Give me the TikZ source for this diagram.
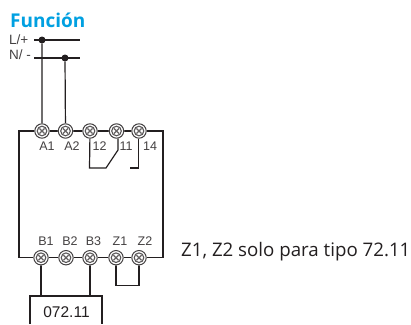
\documentclass[tikz,border=0pt]{standalone}
\usepackage{fontspec}
\setmainfont{Liberation Sans}
\newfontfamily\myr{Open Sans}
\definecolor{fblue}{RGB}{0,160,225}
\definecolor{wire}{RGB}{35,31,32}
\tikzset{
 x=1pt,y=-1pt,
 wireline/.style={draw=wire,line width=1.2pt},
 term/.pic={
  \fill[white] (0,0) circle (7.8);
  \draw[wire!85,line width=1pt] (0,0) circle (7.2);
  \draw[wire!75,line width=1.1pt] (0,0) circle (4.8);
  \draw[wire!70,line width=1.2pt] (-2.6,-2.6)--(2.6,2.6) (-2.6,2.6)--(2.6,-2.6);
 },
 lab/.style={font=\fontsize{12.5}{12.5}\selectfont,text=wire!85,inner sep=0pt,anchor=center},
 rail/.style={font=\fontsize{13.5}{13.5}\selectfont,text=wire!85,inner sep=0pt,anchor=west},
 dot/.style={circle,fill=wire,inner sep=0pt,minimum size=7pt}
}
\begin{document}
\begin{tikzpicture}
\useasboundingbox[fill=white] (0,0) rectangle (411,324);
\node[font=\myr\bfseries\fontsize{19}{19}\selectfont,text=fblue,anchor=west,inner sep=0pt] (fn) at (10,20) {Función};
\node[rail] (lp) at (9,39.5) {L/+};
\node[rail] (nm) at (9,55) {N/ -};
\coordinate (ll) at (34,40); \coordinate (lr) at (80,40);
\coordinate (nl) at (34,58); \coordinate (nr) at (80,58);
\draw[wireline] (ll)--(lr) (nl)--(nr);
\node[dot] (d1) at (42,40) {};
\node[dot] (d2) at (65,58) {};
% terminals
\foreach \n/\x in {a1/42,a2/65.5,t12/90,t11/116.5,t14/139}{\coordinate (\n) at (\x,131);}
\foreach \n/\x in {b1/41,b2/66,b3/90,z1/116,z2/139}{\coordinate (\n) at (\x,257.7);}
% housing
\draw[wireline] (a1) -| (19,257.7) -- (b1);
\draw[wireline] (t14) -| (163,257.7) -- (z2);
\draw[wireline] (a1)--(t14) (b1)--(z2);
\draw[wireline] (d1)--(a1) (d2)--(a2);
% contact
\draw[wireline] (t12)--(89.5,168)--(106,168)--(118,150)--(118,131);
\draw[wireline] (138.3,131)--(138.3,168)--(130,168);
% bottom
\coordinate (k1) at (41,296); \coordinate (k3) at (90,296);
\draw[wireline] (b1)--(k1) (b3)--(k3);
\draw[wireline] (z1)--(116,285.7)--(139,285.7)--(z2);
\draw[wireline] (30,324)--(30,296)--(102,296)--(102,324);
\foreach \n in {a1,a2,t12,t11,t14,b1,b2,b3,z1,z2}{\path (\n) pic {term};}
\node[lab] (la1) at (47,146.5) {A1};
\node[lab] (la2) at (72,146.5) {A2};
\node[lab] (l12) at (99.5,146.5) {12};
\node[lab] (l11) at (126,146.5) {11};
\node[lab] (l14) at (150,146.5) {14};
\node[lab] (lb1) at (46,241.5) {B1};
\node[lab] (lb2) at (70,241.5) {B2};
\node[lab] (lb3) at (93.5,241.5) {B3};
\node[lab] (lz1) at (120,241.5) {Z1};
\node[lab] (lz2) at (145,241.5) {Z2};
\node[font=\fontsize{15.5}{15.5}\selectfont,text=wire,inner sep=0pt] (code) at (66.5,312.5) {072.11};
\node[font=\myr\fontsize{18.7}{18.7}\selectfont,text=wire,anchor=west,inner sep=0pt] (note) at (181,252) {Z1, Z2 solo para tipo 72.11};
\end{tikzpicture}
\end{document}
